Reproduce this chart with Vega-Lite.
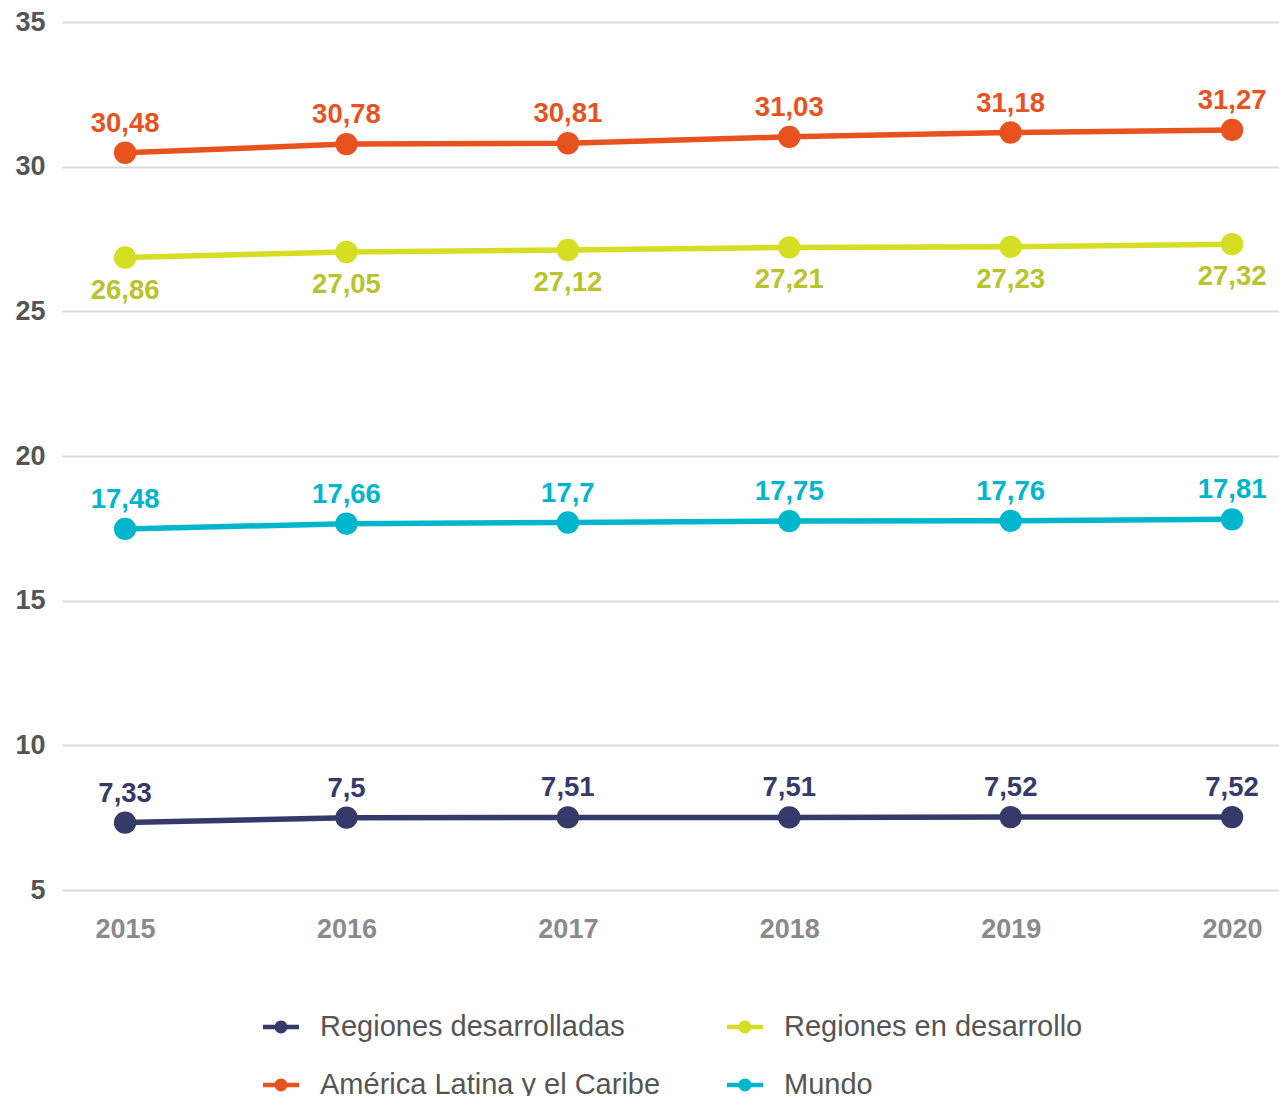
{
  "$schema": "https://vega.github.io/schema/vega-lite/v6.json",
  "autosize": "none",
  "width": 1217,
  "height": 868,
  "padding": {"left": 62, "top": 22, "right": 0, "bottom": 206},
  "background": "white",
  "config": {
    "font": "Liberation Sans",
    "view": {"stroke": null},
    "locale": {"number": {"decimal": ",", "thousands": ".", "grouping": [3], "currency": ["", " €"]}},
    "axis": {"domain": false, "ticks": false, "labelFont": "Liberation Sans", "labelFontWeight": "bold"}
  },
  "data": {"values": [
    {"series": "Regiones desarrolladas", "year": 2015, "value": 7.33},
    {"series": "Regiones desarrolladas", "year": 2016, "value": 7.5},
    {"series": "Regiones desarrolladas", "year": 2017, "value": 7.51},
    {"series": "Regiones desarrolladas", "year": 2018, "value": 7.51},
    {"series": "Regiones desarrolladas", "year": 2019, "value": 7.52},
    {"series": "Regiones desarrolladas", "year": 2020, "value": 7.52},
    {"series": "Regiones en desarrollo", "year": 2015, "value": 26.86},
    {"series": "Regiones en desarrollo", "year": 2016, "value": 27.05},
    {"series": "Regiones en desarrollo", "year": 2017, "value": 27.12},
    {"series": "Regiones en desarrollo", "year": 2018, "value": 27.21},
    {"series": "Regiones en desarrollo", "year": 2019, "value": 27.23},
    {"series": "Regiones en desarrollo", "year": 2020, "value": 27.32},
    {"series": "América Latina y el Caribe", "year": 2015, "value": 30.48},
    {"series": "América Latina y el Caribe", "year": 2016, "value": 30.78},
    {"series": "América Latina y el Caribe", "year": 2017, "value": 30.81},
    {"series": "América Latina y el Caribe", "year": 2018, "value": 31.03},
    {"series": "América Latina y el Caribe", "year": 2019, "value": 31.18},
    {"series": "América Latina y el Caribe", "year": 2020, "value": 31.27},
    {"series": "Mundo", "year": 2015, "value": 17.48},
    {"series": "Mundo", "year": 2016, "value": 17.66},
    {"series": "Mundo", "year": 2017, "value": 17.7},
    {"series": "Mundo", "year": 2018, "value": 17.75},
    {"series": "Mundo", "year": 2019, "value": 17.76},
    {"series": "Mundo", "year": 2020, "value": 17.81}
  ]},
  "encoding": {
    "x": {"field": "year", "type": "quantitative",
      "scale": {"domain": [2014.715, 2020.212], "nice": false, "zero": false},
      "axis": {"title": null, "values": [2015, 2016, 2017, 2018, 2019, 2020], "format": "d", "grid": false,
        "labelFontSize": 27, "labelColor": "#8a8a8a", "labelPadding": 26, "labelFlush": false}},
    "y": {"field": "value", "type": "quantitative",
      "scale": {"domain": [5, 35], "nice": false, "zero": false},
      "axis": {"title": null, "values": [5, 10, 15, 20, 25, 30, 35], "gridColor": "#d9d9d9", "gridWidth": 2,
        "labelFontSize": 27, "labelColor": "#555555", "labelPadding": 17}}
  },
  "layer": [
    {
      "mark": {"type": "point", "filled": true, "opacity": 1, "size": 500},
      "encoding": {
        "color": {"field": "series", "type": "nominal",
          "scale": {"domain": ["Regiones desarrolladas", "Regiones en desarrollo", "América Latina y el Caribe", "Mundo"],
                    "range": ["#363a6a", "#d5de23", "#e8521f", "#00b6cc"]},
          "legend": {"title": null, "orient": "none", "legendX": 201, "legendY": 987, "direction": "horizontal", "columns": 2,
            "symbolType": "M-1,-0.12L1,-0.12L1,0.12L-1,0.12Z M-0.36,0A0.36,0.36 0 1,1 0.36,0A0.36,0.36 0 1,1 -0.36,0Z",
            "symbolSize": 1296, "symbolStrokeWidth": 0, "labelFontSize": 29, "labelColor": "#555555", "labelFont": "Liberation Sans",
            "labelOffset": 21, "labelLimit": 600, "rowPadding": 25, "columnPadding": 66, "padding": 0,
            "encode": {"symbols": {"update": {"fill": {"scale": "color", "field": "value"}, "stroke": {"value": "transparent"}, "opacity": {"value": 1}}}}}
        }
      }
    },
    {
      "mark": {"type": "line", "strokeWidth": 5.5},
      "encoding": {"color": {"field": "series", "type": "nominal"}}
    },
    {
      "transform": [{"filter": "datum.series !== 'Regiones en desarrollo'"}],
      "mark": {"type": "text", "fontWeight": "bold", "fontSize": 27.5, "dy": -29, "baseline": "middle", "align": "center"},
      "encoding": {
        "text": {"field": "value", "type": "quantitative", "format": ""},
        "color": {"field": "series", "type": "nominal"}
      }
    },
    {
      "transform": [{"filter": "datum.series === 'Regiones en desarrollo'"}],
      "mark": {"type": "text", "fontWeight": "bold", "fontSize": 27.5, "dy": 33, "baseline": "middle", "align": "center", "color": "#b9c32b"},
      "encoding": {
        "text": {"field": "value", "type": "quantitative", "format": ""}
      }
    }
  ]
}
